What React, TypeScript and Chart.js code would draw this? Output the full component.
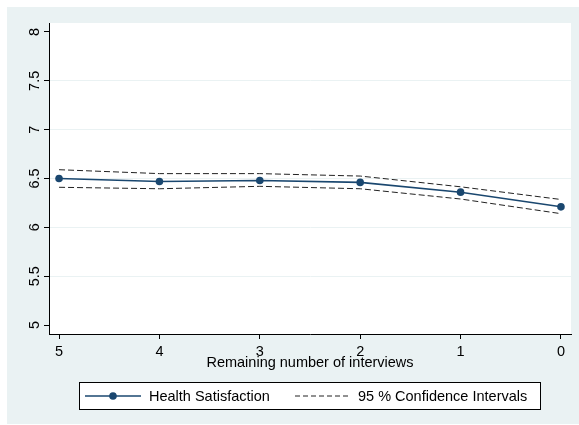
import React, { useEffect, useRef } from "react";
import { Chart, registerables } from "chart.js";

Chart.register(...registerables);

const X_VALUES = [5, 4, 3, 2, 1, 0];
const X_TICKS = [5, 4, 3, 2, 1, 0];
const Y_TICKS = [5, 5.5, 6, 6.5, 7, 7.5, 8];
const Y_TICK_LABELS = ["5", "5.5", "6", "6.5", "7", "7.5", "8"];
const HEALTH_SATISFACTION = [6.5, 6.47, 6.48, 6.46, 6.36, 6.21];
const CI_UPPER = [6.59, 6.55, 6.55, 6.525, 6.415, 6.285];
const CI_LOWER = [6.41, 6.395, 6.42, 6.395, 6.29, 6.14];
const X_TITLE = "Remaining number of interviews";
const LEGEND_LABELS = ["Health Satisfaction", "95 % Confidence Intervals"];

const NAVY = "#1A476F";
const BG = "#EAF2F3";
const FONT = "Liberation Sans, Arial, sans-serif";
const FS = 14.5;

const bgPlugin = {
  id: "stataBg",
  beforeDraw(chart: any) {
    const { ctx, chartArea } = chart;
    ctx.save();
    ctx.fillStyle = "#ffffff";
    ctx.fillRect(0, 0, chart.width, chart.height);
    ctx.fillStyle = BG;
    ctx.fillRect(7, 7, chart.width - 7, 417);
    ctx.fillStyle = "#ffffff";
    ctx.fillRect(chartArea.left, chartArea.top, chartArea.right - chartArea.left, chartArea.bottom - chartArea.top);
    ctx.restore();
  },
  afterDraw(chart: any) {
    const { ctx } = chart;
    const y = chart.scales.y;
    ctx.save();
    ctx.fillStyle = "#000";
    ctx.font = `${FS}px ${FONT}`;
    ctx.textAlign = "center";
    ctx.textBaseline = "alphabetic";
    Y_TICKS.forEach((v, i) => {
      const py = y.getPixelForValue(v);
      ctx.save();
      ctx.translate(38.5, py);
      ctx.rotate(-Math.PI / 2);
      ctx.fillText(Y_TICK_LABELS[i], 0, 0);
      ctx.restore();
    });

    // legend
    const lx = 79.5, ly = 382.5, lw = 461, lh = 27;
    ctx.fillStyle = "#fff";
    ctx.fillRect(lx, ly, lw, lh);
    ctx.strokeStyle = "#000";
    ctx.lineWidth = 1;
    ctx.strokeRect(lx, ly, lw, lh);
    const cy = ly + lh / 2;
    const ds0 = chart.data.datasets[0];
    const ds1 = chart.data.datasets[1];
    ctx.strokeStyle = ds0.borderColor;
    ctx.lineWidth = ds0.borderWidth;
    ctx.beginPath();
    ctx.moveTo(85, cy);
    ctx.lineTo(141, cy);
    ctx.stroke();
    ctx.fillStyle = ds0.pointBackgroundColor;
    ctx.beginPath();
    ctx.arc(113, cy, ds0.pointRadius, 0, Math.PI * 2);
    ctx.fill();
    ctx.strokeStyle = ds1.borderColor;
    ctx.lineWidth = ds1.borderWidth;
    ctx.setLineDash([5, 3]);
    ctx.beginPath();
    ctx.moveTo(295, cy);
    ctx.lineTo(350, cy);
    ctx.stroke();
    ctx.setLineDash([]);
    ctx.fillStyle = "#000";
    ctx.textAlign = "left";
    ctx.textBaseline = "middle";
    ctx.fillText(LEGEND_LABELS[0], 149, cy + 0.5);
    ctx.fillText(LEGEND_LABELS[1], 358, cy + 0.5);
    ctx.restore();
  },
};

export default function App() {
  const ref = useRef<HTMLCanvasElement>(null);
  useEffect(() => {
    if (!ref.current) return;
    const toXY = (arr: number[]) => X_VALUES.map((x, i) => ({ x, y: arr[i] }));
    const chart = new Chart(ref.current, {
      type: "line",
      data: {
        datasets: [
          {
            label: LEGEND_LABELS[0],
            data: toXY(HEALTH_SATISFACTION),
            borderColor: NAVY,
            backgroundColor: NAVY,
            pointBackgroundColor: NAVY,
            pointBorderColor: NAVY,
            borderWidth: 1.6,
            pointRadius: 3.8,
            pointBorderWidth: 0,
            tension: 0,
          },
          {
            label: "Upper",
            data: toXY(CI_UPPER),
            borderColor: "#222",
            borderWidth: 1,
            borderDash: [6, 3],
            pointRadius: 0,
            tension: 0,
          },
          {
            label: "Lower",
            data: toXY(CI_LOWER),
            borderColor: "#222",
            borderWidth: 1,
            borderDash: [6, 3],
            pointRadius: 0,
            tension: 0,
          },
        ],
      },
      options: {
        responsive: false,
        animation: false,
        layout: { padding: { left: 0, top: 23, right: 8, bottom: 53 } },
        plugins: { legend: { display: false }, tooltip: { enabled: false } },
        scales: {
          x: {
            type: "linear",
            min: -0.1,
            max: 5.1,
            reverse: true,
            afterBuildTicks: (s: any) => {
              s.ticks = X_TICKS.map((v) => ({ value: v }));
            },
            afterFit: (s: any) => {
              s.height = 38;
            },
            grid: { drawOnChartArea: false, tickLength: 5, tickColor: "#000", drawTicks: true },
            border: { color: "#000", width: 1 },
            ticks: {
              color: "#000",
              font: { family: FONT, size: FS, lineHeight: 1.2 },
              padding: 4,
              maxRotation: 0,
              autoSkip: false,
            },
            title: {
              display: true,
              text: X_TITLE,
              color: "#000",
              font: { family: FONT, size: FS, lineHeight: 1.2 },
              padding: { top: 0, bottom: 0 },
            },
          },
          y: {
            type: "linear",
            min: 4.908,
            max: 8.092,
            afterBuildTicks: (s: any) => {
              s.ticks = Y_TICKS.map((v) => ({ value: v }));
            },
            afterFit: (s: any) => {
              s.width = 49;
            },
            grid: {
              color: (c: any) =>
                c.tick && (c.tick.value === Y_TICKS[0] || c.tick.value === Y_TICKS[Y_TICKS.length - 1])
                  ? "rgba(0,0,0,0)"
                  : BG,
              lineWidth: 1,
              tickLength: 5,
              tickColor: "#000",
            },
            border: { color: "#000", width: 1 },
            ticks: { display: false },
          },
        },
      },
      plugins: [bgPlugin],
    });
    return () => chart.destroy();
  }, []);
  return (
    <div style={{ position: "absolute", left: 0, top: 0, width: 579, height: 425 }}>
      <canvas ref={ref} width={579} height={425} style={{ display: "block" }} />
    </div>
  );
}
